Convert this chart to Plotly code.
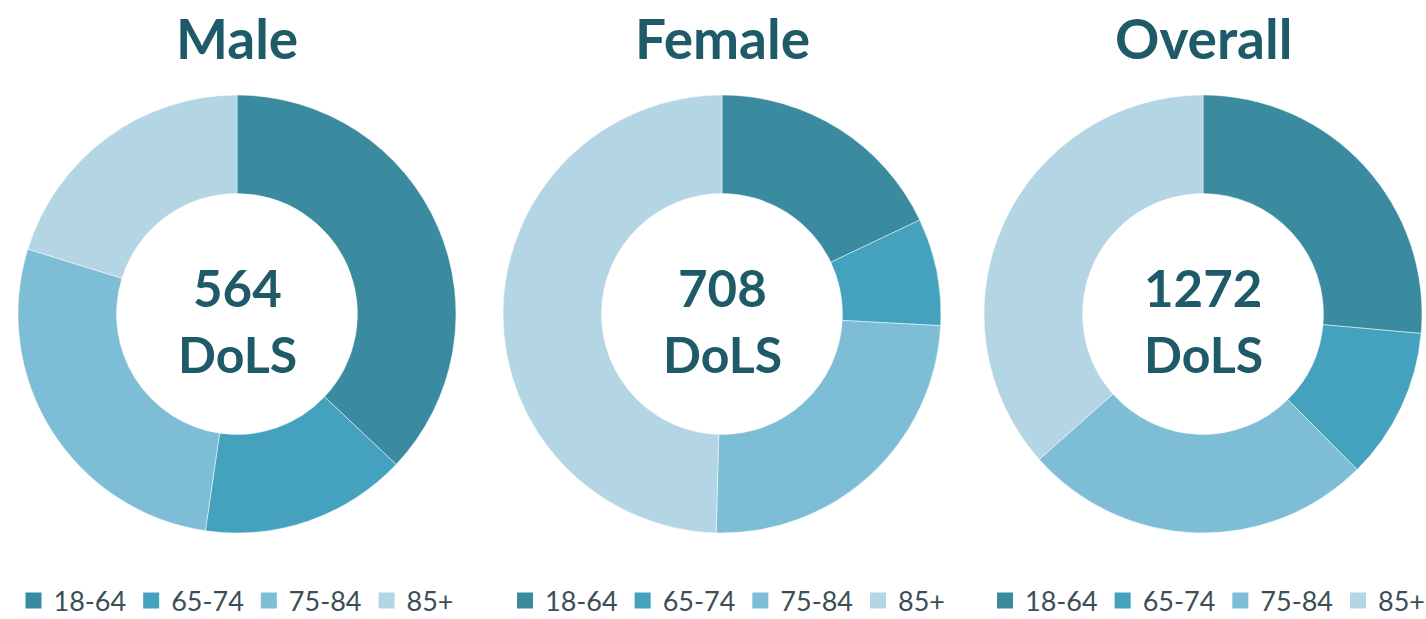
import plotly.graph_objects as go

age_groups = ["18-64", "65-74", "75-84", "85+"]
male_counts = [209, 86, 155, 114]
female_counts = [127, 56, 174, 351]
overall_counts = [336, 142, 329, 465]
panel_titles = ["Male", "Female", "Overall"]
center_numbers = ["564", "708", "1272"]
colors = ["#3A8AA0", "#44A2BE", "#7DBDD6", "#B4D5E3"]

W, H = 1426, 619
centers_x = [237, 722, 1203]
center_y = 314
radius = 219
text_color = "#1F5A68"
font_family = "Lato, 'Open Sans', sans-serif"

fig = go.Figure()
series = [male_counts, female_counts, overall_counts]
legend_names = ["legend", "legend2", "legend3"]
for i, vals in enumerate(series):
    cx = centers_x[i]
    x0 = max(0.0, (cx - radius) / W)
    x1 = min(1.0, (cx + radius) / W)
    yc = (H - center_y) / H
    fig.add_trace(go.Pie(
        labels=age_groups,
        values=vals,
        hole=0.55,
        sort=False,
        direction="clockwise",
        rotation=0,
        marker=dict(colors=colors, line=dict(color="rgba(255,255,255,0.6)", width=0.8)),
        textinfo="none",
        hoverinfo="label+value+percent",
        domain=dict(x=[x0, x1], y=[yc - radius / H, yc + radius / H]),
        showlegend=False,
    ))
    # legend entries (one legend per donut)
    for lab, col in zip(age_groups, colors):
        fig.add_trace(go.Scatter(
            x=[None], y=[None], mode="markers", name=lab,
            marker=dict(symbol="square", size=16, color=col),
            legend=legend_names[i], showlegend=True, hoverinfo="skip",
        ))
    fig.add_annotation(
        x=cx / W, y=(H - 287) / H, xref="paper", yref="paper",
        text="<b>" + center_numbers[i] + "</b>", showarrow=False,
        font=dict(size=51, color=text_color, family=font_family),
        xanchor="center", yanchor="middle",
    )
    fig.add_annotation(
        x=cx / W, y=(H - 354) / H, xref="paper", yref="paper",
        text="<b>DoLS</b>", showarrow=False,
        font=dict(size=50, color=text_color, family=font_family),
        xanchor="center", yanchor="middle",
    )
    fig.add_annotation(
        x=cx / W, y=(H - 38) / H, xref="paper", yref="paper",
        text="<b>" + panel_titles[i] + "</b>", showarrow=False,
        font=dict(size=55, color=text_color, family=font_family),
        xanchor="center", yanchor="middle",
    )

legend_common = dict(
    orientation="h",
    yanchor="middle",
    y=(H - 601) / H,
    xanchor="left",
    font=dict(size=27, color="#3B4F55", family=font_family),
    bgcolor="rgba(0,0,0,0)",
    itemclick=False,
    itemdoubleclick=False,
    traceorder="normal",
)
legend_left = [13.5, 505, 985]

fig.update_layout(
    width=W, height=H,
    margin=dict(l=0, r=0, t=0, b=0, autoexpand=False),
    paper_bgcolor="white",
    plot_bgcolor="white",
    xaxis=dict(visible=False),
    yaxis=dict(visible=False),
    legend=dict(legend_common, x=legend_left[0] / W),
    legend2=dict(legend_common, x=legend_left[1] / W),
    legend3=dict(legend_common, x=legend_left[2] / W),
)

fig.write_html("out.html", config={"displayModeBar": False},
               post_script="document.body.style.margin='0';")
